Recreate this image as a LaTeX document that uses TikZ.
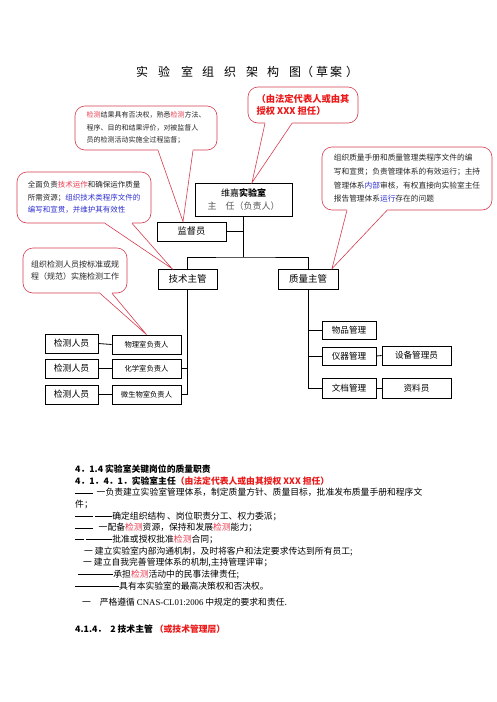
\documentclass[tikz,border=0pt]{standalone}
\usepackage{fontspec}
\setmainfont{Noto Sans CJK SC}
\newfontfamily\latinfont{Liberation Serif}
\usetikzlibrary{calc}
\definecolor{notered}{RGB}{214,60,80}
\definecolor{hotred}{RGB}{235,25,25}
\definecolor{wordred}{RGB}{232,60,80}
\definecolor{wordblue}{RGB}{50,50,210}
\newcommand\rd[1]{\textcolor{wordred}{#1}}
\newcommand\bl[1]{\textcolor{wordblue}{#1}}
\newcommand\emd{\rule[0.34em]{1em}{0.3pt}}
\tikzset{
  orgbox/.style={draw, line width=0.8pt, inner sep=0pt, align=center},
  notebox/.style={draw=notered, line width=0.6pt, rounded corners=10pt, fill=white,
    inner sep=0pt, align=left, text=black!85},
  noteline/.style={draw=notered, line width=0.6pt},
  link/.style={line width=0.8pt},
  body/.style={inner sep=0pt, align=left, anchor=north west, font=\fontsize{8.8}{11.7}\selectfont}
}
\begin{document}
\begin{tikzpicture}[x=1pt, y=-1pt]
\useasboundingbox[fill=white] (0,0) rectangle (496,702);

% title
\foreach \x/\c [count=\i] in {142/实,164/验,187/室,208/组,230/织,252/架,273/构,295/图,307/（,322/草,336/案,352/）}
  \node[font=\fontsize{12}{12}\selectfont] (title\i) at (\x,72) {\c};

% organisation boxes
\node[orgbox, minimum width=97, minimum height=33, font=\fontsize{9}{13}\selectfont] (lab) at (243.5,199.5)
  {维嘉\textbf{实验室}\\[0.5pt]\textcolor{black!65}{主\quad 任（负责人）}};
\node[orgbox, minimum width=69, minimum height=19, font=\fontsize{9.2}{10}\selectfont] (sup) at (191.5,231.5) {监督员};
\node[orgbox, minimum width=59, minimum height=20, font=\fontsize{9.5}{10}\selectfont] (tech) at (187.5,279) {技术主管};
\node[orgbox, minimum width=60, minimum height=20, font=\fontsize{9.5}{10}\selectfont] (qual) at (308,279) {质量主管};

\node[orgbox, minimum width=53, minimum height=19, font=\fontsize{8.8}{10}\selectfont] (tester1) at (71.5,343.5) {检测人员};
\node[orgbox, minimum width=53, minimum height=19, font=\fontsize{8.8}{10}\selectfont] (tester2) at (71.5,368.5) {检测人员};
\node[orgbox, minimum width=53, minimum height=19, font=\fontsize{8.8}{10}\selectfont] (tester3) at (71.5,394.5) {检测人员};
\node[orgbox, minimum width=69, minimum height=19, font=\fontsize{7.3}{9}\selectfont] (phys) at (146.5,344.5) {物理室负责人};
\node[orgbox, minimum width=69, minimum height=19, font=\fontsize{7.3}{9}\selectfont] (chem) at (146.5,368.5) {化学室负责人};
\node[orgbox, minimum width=69, minimum height=19, font=\fontsize{7.3}{9}\selectfont] (bio) at (146.5,394.5) {微生物室负责人};

\node[orgbox, minimum width=54, minimum height=18, font=\fontsize{8.6}{10}\selectfont] (goods) at (349,330) {物品管理};
\node[orgbox, minimum width=54, minimum height=18, font=\fontsize{8.6}{10}\selectfont] (instr) at (349,356) {仪器管理};
\node[orgbox, minimum width=69, minimum height=19, font=\fontsize{8.6}{10}\selectfont] (equip) at (416.5,355.5) {设备管理员};
\node[orgbox, minimum width=54, minimum height=20, font=\fontsize{8.6}{10}\selectfont] (docs) at (349,388) {文档管理};
\node[orgbox, minimum width=69, minimum height=20, font=\fontsize{8.6}{10}\selectfont] (archive) at (416.5,388) {资料员};

% connectors
\coordinate (fork) at (243.5,257);
\draw[link] (lab.south) -- (fork);
\draw[link] (tech.north) |- (fork) -| (qual.north);
\draw[link] (sup.east) -- (sup.east -| lab.south);
\draw[link] (tech.south) |- (bio.east);
\draw[link] (chem.east) -- (chem.east -| tech.south);
\foreach \a/\b in {tester1/phys,tester2/chem,tester3/bio}
  \draw[link] (\a.east) -- (\b.west);
\draw[link] (qual.south) |- (docs.west);
\draw[link] (goods.west) -- (goods.west -| qual.south);
\draw[link] (instr.west) -- (instr.west -| qual.south);
\draw[link] (instr.east) -- (equip.west);
\draw[link] (docs.east) -- (archive.west);

% callouts
\node[notebox, minimum width=110, minimum height=36, text=hotred, font=\bfseries\fontsize{9.3}{12}\selectfont] (note0) at (303,105)
  {（由法定代表人或由其\\授权 XXX 担任）};
\node[notebox, minimum width=142, minimum height=44, font=\fontsize{7}{12.5}\selectfont] (note1) at (146,128)
  {\rd{检测}结果具有否决权，熟悉\rd{检测}方法、\\程序、目的和结果评价，对被监督人\\员的检测活动实施全过程监督；};
\node[notebox, minimum width=134, minimum height=51, font=\fontsize{7.5}{12.5}\selectfont] (note2) at (84,197.5)
  {全面负责\rd{技术运作}和确保运作质量\\所需资源；\bl{组织技术类程序文件的}\\\bl{编写和宣贯，并维护其有效性}};
\node[notebox, minimum width=170, minimum height=63, font=\fontsize{7.7}{13.7}\selectfont] (note3) at (407,178.5)
  {组织质量手册和质量管理类程序文件的编\\写和宣贯；负责管理体系的有效运行；主持\\管理体系\bl{内部}审核，有权直接向实验室主任\\报告管理体系\bl{运行}存在的问题};
\node[notebox, minimum width=104, minimum height=45, font=\fontsize{8}{12}\selectfont] (note4) at (75,270.5)
  {组织检测人员按标准或规\\程（规范）实施检测工作};

\coordinate (tip0) at ([xshift=8.5pt]lab.north);
\coordinate (tip1) at ([xshift=-8.5pt]sup.north);
\coordinate (tip2) at ([xshift=-15.5pt]tech.north);
\coordinate (tip3) at ([xshift=24pt]qual.north);
\coordinate (tip4) at (phys.north);
\foreach \n/\a/\b in {0/265/292,1/158/193,2/105/132,3/347/387,4/100/112} {
  \path (\a,0 |- note\n.south) coordinate (basel) (\b,0 |- note\n.south) coordinate (baser);
  \fill[white] ([yshift=1.5pt]basel) -- (basel) -- (tip\n) -- (baser) -- ([yshift=1.5pt]baser) -- cycle;
  \draw[noteline] (basel) -- (tip\n) -- (baser);
}

% duties text
\node[body] (duty) at (75,464.5) {%
\textbf{4．1.4 实验室关键岗位的质量职责}\\
\textbf{4．1．4．1．实验室主任\textcolor{hotred}{（由法定代表人或由其授权 XXX 担任）}}\\
\emd\emd\ \ 一负责建立实验室管理体系，制定质量方针、质量目标，批准发布质量手册和程序文\\
件；\\
\emd\emd\ \emd\emd 确定组织结构 、岗位职责分工、权力委派；\\
\emd\emd\ \ \ 一配备\rd{检测}资源，保持和发展\rd{检测}能力；\\
\emd\ \emd\emd\emd 批准或授权批准\rd{检测}合同；\\
\hspace*{9pt}一 建立实验室内部沟通机制，及时将客户和法定要求传达到所有员工;\\
\hspace*{8pt}一 建立自我完善管理体系的机制,主持管理评审；\\
\hspace*{3pt}\emd\emd\emd\emd 承担\rd{检测}活动中的民事法律责任;\\
\emd\emd\emd\emd\emd 具有本实验室的最高决策权和否决权。};
\node[body] (cnas) at (82,597.5) {一\quad 严格遵循 {\latinfont CNAS-CL01:2006} 中规定的要求和责任.};
\node[body] (techhead) at (75,624.5) {\textbf{4.1.4．\ \ 2 技术主管 \textcolor{hotred}{（或技术管理层）}}};
\end{tikzpicture}
\end{document}
